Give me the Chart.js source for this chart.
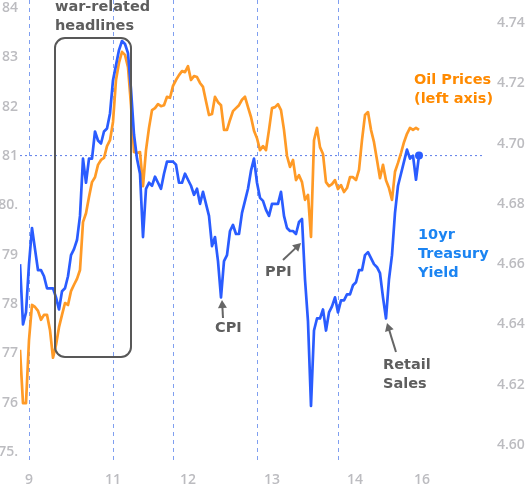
<!DOCTYPE html>
<html>
<head>
<meta charset="utf-8">
<script src="https://cdn.jsdelivr.net/npm/chart.js@4.4.1/dist/chart.umd.min.js"></script>
<style>
  html, body { margin: 0; padding: 0; background: #fff; }
  #wrap { position: relative; width: 525px; height: 490px; overflow: hidden; }
  .note { position: absolute; font-family: "DejaVu Sans", sans-serif; font-weight: bold;
          font-size: 14.5px; line-height: 19px; white-space: nowrap; }
  .gray { color: #5e5e5e; }
  .orange { color: #ff8a00; }
  .blue { color: #1b84f2; }
</style>
</head>
<body>
<div id="wrap">
  <canvas id="chart"></canvas>
  <div class="note gray" style="left:55px; top:-3px;">war-related<br>headlines</div>
  <div class="note orange" style="left:414px; top:70px;">Oil Prices<br>(left axis)</div>
  <div class="note blue" style="left:418px; top:225px;">10yr<br>Treasury<br>Yield</div>
  <div class="note gray" style="left:215px; top:318px;">CPI</div>
  <div class="note gray" style="left:265px; top:262px;">PPI</div>
  <div class="note gray" style="left:383px; top:355px;">Retail<br>Sales</div>
</div>
<script>
// intraday samples, evenly spaced in time (index = sample number)
const oilPrices = [
  77.07, 75.99, 75.99, 77.27, 77.98, 77.94, 77.86, 77.68, 77.78, 77.78,
  77.47, 76.91, 77.17, 77.53, 77.78, 78.02, 77.98, 78.26, 78.39, 78.51,
  78.69, 79.66, 79.84, 80.17, 80.47, 80.57, 80.82, 80.92, 80.96, 81.20,
  81.32, 81.69, 82.54, 82.89, 83.11, 83.05, 82.80, 82.03, 81.08, 81.06,
  81.08, 80.39, 81.12, 81.57, 81.93, 81.97, 82.05, 82.01, 82.03, 82.20,
  82.18, 82.42, 82.54, 82.64, 82.72, 82.70, 82.82, 82.54, 82.62, 82.60,
  82.48, 82.40, 82.11, 81.83, 81.85, 82.20, 82.09, 82.03, 81.53, 81.53,
  81.73, 81.91, 81.97, 82.03, 82.14, 82.20, 81.99, 81.79, 81.51, 81.36,
  81.12, 81.20, 81.12, 81.53, 81.97, 81.99, 82.05, 81.93, 81.53, 81.00,
  80.78, 80.92, 80.51, 80.61, 80.47, 80.11, 80.21, 79.36, 81.32, 81.57,
  81.18, 81.04, 80.47, 80.39, 80.43, 80.51, 80.33, 80.41, 80.27, 80.35,
  80.57, 80.57, 80.51, 80.72, 81.32, 81.83, 81.89, 81.53, 81.28, 80.92,
  80.55, 80.82, 80.51, 80.35, 80.11, 80.68, 80.86, 81.06, 81.28, 81.45,
  81.57, 81.53, 81.57, 81.53
];
const treasuryYield = [
  4.660, 4.640, 4.644, 4.660, 4.672, 4.665, 4.658, 4.658, 4.656, 4.652,
  4.652, 4.652, 4.649, 4.645, 4.651, 4.652, 4.656, 4.663, 4.665, 4.668,
  4.676, 4.695, 4.687, 4.695, 4.695, 4.704, 4.701, 4.700, 4.704, 4.705,
  4.710, 4.721, 4.726, 4.731, 4.734, 4.733, 4.730, 4.718, 4.703, 4.695,
  4.690, 4.669, 4.685, 4.687, 4.686, 4.689, 4.687, 4.685, 4.690, 4.694,
  4.694, 4.694, 4.693, 4.687, 4.687, 4.690, 4.688, 4.686, 4.683, 4.685,
  4.680, 4.684, 4.680, 4.676, 4.666, 4.669, 4.661, 4.649, 4.661, 4.663,
  4.671, 4.673, 4.670, 4.670, 4.677, 4.681, 4.685, 4.691, 4.695, 4.687,
  4.682, 4.681, 4.678, 4.676, 4.680, 4.680, 4.680, 4.684, 4.676, 4.672,
  4.671, 4.671, 4.670, 4.674, 4.675, 4.655, 4.641, 4.613, 4.638, 4.642,
  4.642, 4.645, 4.638, 4.644, 4.646, 4.649, 4.644, 4.648, 4.648, 4.650,
  4.650, 4.653, 4.654, 4.658, 4.658, 4.663, 4.664, 4.662, 4.660, 4.659,
  4.657, 4.649, 4.642, 4.655, 4.663, 4.677, 4.686, 4.690, 4.694, 4.698,
  4.695, 4.696, 4.688, 4.696
];

// x axis: sample positions of the day labels and of the session breaks
const xTickPos = [3, 31, 56, 84, 111.7, 134];
const xTickLabels = ['9', '11', '12', '13', '14', '16'];
const dayBreaks = [3, 31, 51, 79, 106];
const xRange = [0, 156.67];

const oilTicks = [75, 76, 77, 78, 79, 80, 81, 82, 83, 84];
const oilTickLabels = ['75.', '76', '77', '78', '79', '80.', '81', '82', '83', '84'];
const oilRange = [74.797, 84.162];

const yieldTicks = [4.60, 4.62, 4.64, 4.66, 4.68, 4.70, 4.72, 4.74];
const yieldTickLabels = ['4.60', '4.62', '4.64', '4.66', '4.68', '4.70', '4.72', '4.74'];
const yieldRange = [4.5944, 4.7476];

const refLineEnd = 155;

const ORANGE = '#ff9a26';
const BLUE = '#2a5cff';
const tickFont = { family: 'Open Sans', size: 14, weight: '600' };
const tickColor = '#bcbcc0';

const lastYield = treasuryYield[treasuryYield.length - 1];

function arrow(ctx, x1, y1, x2, y2) {
  const a = Math.atan2(y2 - y1, x2 - x1);
  const hl = 8, hw = 4.5;
  ctx.beginPath();
  ctx.moveTo(x1, y1);
  ctx.lineTo(x2 - Math.cos(a) * hl * 0.8, y2 - Math.sin(a) * hl * 0.8);
  ctx.stroke();
  ctx.beginPath();
  ctx.moveTo(x2, y2);
  ctx.lineTo(x2 - Math.cos(a) * hl + Math.sin(a) * hw, y2 - Math.sin(a) * hl - Math.cos(a) * hw);
  ctx.lineTo(x2 - Math.cos(a) * hl - Math.sin(a) * hw, y2 - Math.sin(a) * hl + Math.cos(a) * hw);
  ctx.closePath();
  ctx.fill();
}

const notesPlugin = {
  id: 'notes',
  beforeDatasetsDraw(chart) {
    const { ctx, chartArea, scales } = chart;
    ctx.save();
    ctx.strokeStyle = '#7f9ff0';
    ctx.lineWidth = 1;
    ctx.setLineDash([4, 4]);
    dayBreaks.forEach(v => {
      const px = Math.round(scales.x.getPixelForValue(v)) + 0.5;
      ctx.beginPath();
      ctx.moveTo(px, chartArea.top);
      ctx.lineTo(px, chartArea.bottom);
      ctx.stroke();
    });
    ctx.restore();
  },
  afterDatasetsDraw(chart) {
    const { ctx } = chart;
    ctx.save();
    // box around the war-related move
    ctx.strokeStyle = '#585858';
    ctx.lineWidth = 2;
    ctx.beginPath();
    ctx.roundRect(55, 38, 76, 319, 10);
    ctx.stroke();
    // arrows pointing at data releases
    ctx.strokeStyle = '#666';
    ctx.fillStyle = '#666';
    ctx.lineWidth = 2;
    arrow(ctx, 223, 318, 222, 300);
    arrow(ctx, 283, 260, 301, 243);
    arrow(ctx, 396, 352, 387, 323);
    ctx.restore();
  }
};

const hiddenGrid = { display: false, drawTicks: false };

// keep the plot area flush with the canvas edges
function noPad(s) {
  s.paddingTop = 0;
  s.paddingBottom = 0;
  s.paddingLeft = 0;
  s.paddingRight = 0;
}

new Chart(document.getElementById('chart'), {
  type: 'line',
  data: {
    datasets: [
      {
        label: 'last yield',
        data: [{ x: 0, y: lastYield }, { x: refLineEnd, y: lastYield }],
        yAxisID: 'yR',
        borderColor: '#5b7be8',
        borderWidth: 1,
        borderDash: [2, 3],
        pointRadius: 0,
        order: 3
      },
      {
        label: 'Oil Prices',
        data: oilPrices.map((v, i) => ({ x: i, y: v })),
        yAxisID: 'yL',
        borderColor: ORANGE,
        borderWidth: 2.7,
        pointRadius: 0,
        tension: 0,
        borderJoinStyle: 'round',
        order: 2
      },
      {
        label: '10yr Treasury Yield',
        data: treasuryYield.map((v, i) => ({ x: i, y: v })),
        yAxisID: 'yR',
        borderColor: BLUE,
        backgroundColor: BLUE,
        borderWidth: 2.7,
        pointRadius: c => (c.dataIndex === treasuryYield.length - 1 ? 4 : 0),
        pointBorderWidth: 0,
        tension: 0,
        borderJoinStyle: 'round',
        order: 1
      }
    ]
  },
  options: {
    responsive: true,
    maintainAspectRatio: false,
    animation: false,
    layout: { padding: 0, autoPadding: false },
    plugins: {
      legend: { display: false },
      tooltip: { enabled: false }
    },
    scales: {
      x: {
        type: 'linear',
        min: xRange[0],
        max: xRange[1],
        grid: hiddenGrid,
        border: { display: false },
        afterBuildTicks: s => { s.ticks = xTickPos.map(v => ({ value: v })); },
        afterFit: s => { s.height = 28; noPad(s); },
        ticks: {
          autoSkip: false,
          maxRotation: 0,
          padding: 10,
          font: tickFont,
          color: tickColor,
          callback: (v, i) => xTickLabels[i]
        }
      },
      yL: {
        position: 'left',
        min: oilRange[0],
        max: oilRange[1],
        grid: hiddenGrid,
        border: { display: false },
        afterBuildTicks: s => { s.ticks = oilTicks.map(v => ({ value: v })); },
        afterFit: s => { s.width = 20; noPad(s); },
        ticks: {
          padding: 2,
          font: tickFont,
          color: tickColor,
          callback: (v, i) => oilTickLabels[i]
        }
      },
      yR: {
        position: 'right',
        min: yieldRange[0],
        max: yieldRange[1],
        grid: hiddenGrid,
        border: { display: false },
        afterBuildTicks: s => { s.ticks = yieldTicks.map(v => ({ value: v })); },
        afterFit: s => { s.width = 35; noPad(s); },
        ticks: {
          padding: 7,
          font: tickFont,
          color: tickColor,
          callback: (v, i) => yieldTickLabels[i]
        }
      }
    }
  },
  plugins: [notesPlugin]
});
</script>
</body>
</html>
